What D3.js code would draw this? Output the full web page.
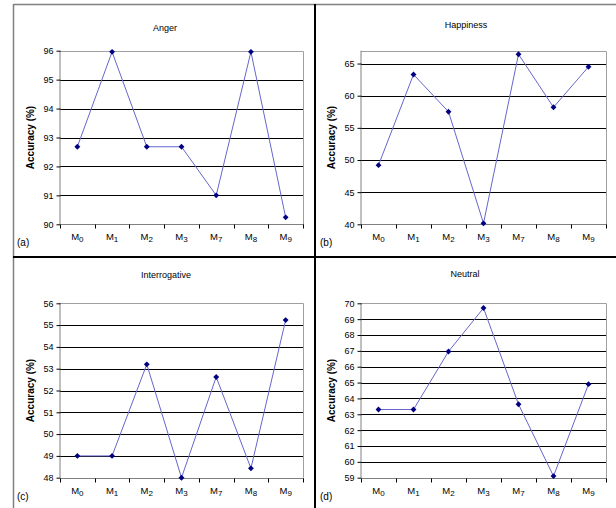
<!DOCTYPE html>
<html><head><meta charset="utf-8">
<script src="https://cdn.jsdelivr.net/npm/d3@7"></script>
<style>body{margin:0;background:#fff}svg{display:block;font-family:"Liberation Sans",Arial,sans-serif}</style>
</head><body><svg id="c" width="616" height="508"></svg>
<script>
const categories = ["0","1","2","3","7","8","9"];
const angerValues = [92.68, 95.96, 92.68, 92.68, 91.0, 95.96, 90.24];
const happinessValues = [49.2, 63.3, 57.5, 40.15, 66.45, 58.2, 64.5];
const interrogativeValues = [49.0, 49.0, 53.2, 48.0, 52.62, 48.43, 55.23];
const neutralValues = [63.3, 63.3, 66.96, 69.7, 63.63, 59.1, 64.9];
const angerTicks = [90,91,92,93,94,95,96];
const happinessTicks = [40,45,50,55,60,65];
const interrogativeTicks = [48,49,50,51,52,53,54,55,56];
const neutralTicks = [59,60,61,62,63,64,65,66,67,68,69,70];

const panels = [
  {title:"Anger", tag:"(a)", values:angerValues, ticks:angerTicks, domain:[90,96], x0:60, x1:303, y0:50.7, y1:224.3, tx:165, ty:31, ax:34, lx:17, ly:246},
  {title:"Happiness", tag:"(b)", values:happinessValues, ticks:happinessTicks, domain:[40,67], x0:361, x1:606, y0:50.7, y1:224.3, tx:466, ty:28, ax:335, lx:320, ly:246},
  {title:"Interrogative", tag:"(c)", values:interrogativeValues, ticks:interrogativeTicks, domain:[48,56], x0:60, x1:303, y0:303.3, y1:477.7, tx:166, ty:278, ax:34, lx:17, ly:500},
  {title:"Neutral", tag:"(d)", values:neutralValues, ticks:neutralTicks, domain:[59,70], x0:361, x1:606, y0:303.3, y1:477.7, tx:465, ty:277, ax:335, lx:320, ly:500}
];

const svg = d3.select("#c");
// frame
svg.append("line").attr("x1",13.5).attr("x2",616).attr("y1",4.5).attr("y2",4.5).attr("stroke","#808080").attr("stroke-width",1.5);
svg.append("line").attr("x1",13.5).attr("x2",13.5).attr("y1",4).attr("y2",508).attr("stroke","#808080").attr("stroke-width",1.5);
svg.append("line").attr("x1",13).attr("x2",616).attr("y1",257).attr("y2",257).attr("stroke","#000").attr("stroke-width",2);
svg.append("line").attr("x1",315).attr("x2",315).attr("y1",4).attr("y2",508).attr("stroke","#000").attr("stroke-width",2);

panels.forEach(p => {
  const g = svg.append("g");
  const x = d3.scaleBand().domain(categories).range([p.x0,p.x1]);
  const y = d3.scaleLinear().domain(p.domain).range([p.y1,p.y0]);
  // gridlines
  g.selectAll(".grid").data(p.ticks.filter(t => y(t) > p.y0 + 1 && y(t) < p.y1 - 1)).enter().append("line")
    .attr("x1",p.x0).attr("x2",p.x1).attr("y1",d=>Math.round(y(d))+0.5).attr("y2",d=>Math.round(y(d))+0.5)
    .attr("stroke","#000").attr("stroke-width",1);
  // plot border (top and right gray)
  g.append("path").attr("d",`M${p.x0},${Math.round(p.y0)+0.5}H${Math.round(p.x1)+0.5}V${p.y1}`)
    .attr("fill","none").attr("stroke","#a0a0a0").attr("stroke-width",1);
  // y axis
  const ya = g.append("g").attr("transform",`translate(${Math.round(p.x0)+0.5},0)`)
    .call(d3.axisLeft(y).tickValues(p.ticks).tickSize(4).tickPadding(3).tickFormat(d3.format("d")));
  ya.select(".domain").attr("stroke","#808080").attr("d",`M-0.5,${p.y0}V${p.y1}`);
  ya.selectAll(".tick line").attr("stroke","#000");
  ya.selectAll("text").attr("font-size",9).attr("fill","#000").attr("font-family","Liberation Sans, Arial, sans-serif");
  // x axis
  const xa = g.append("g").attr("transform",`translate(0,${Math.round(p.y1)+0.5})`);
  xa.append("line").attr("x1",p.x0).attr("x2",p.x1+1).attr("stroke","#808080");
  const bounds = categories.map(c => x(c)).concat([p.x1]);
  xa.selectAll(".xt").data(bounds).enter().append("line")
    .attr("x1",d=>Math.round(d)+0.5).attr("x2",d=>Math.round(d)+0.5).attr("y1",0).attr("y2",4).attr("stroke","#000");
  const lab = xa.selectAll(".xl").data(categories).enter().append("text")
    .attr("x",d=>x(d)+x.bandwidth()/2).attr("y",15).attr("text-anchor","middle")
    .attr("font-size",9.5).attr("fill","#000");
  lab.append("tspan").text("M");
  lab.append("tspan").attr("dy",2.5).attr("font-size",8).text(d=>d);
  // title
  g.append("text").attr("x",p.tx).attr("y",p.ty).attr("text-anchor","middle").attr("font-size",9).text(p.title);
  // axis title
  g.append("text").attr("transform",`translate(${p.ax},${(p.y0+p.y1)/2}) rotate(-90)`)
    .attr("text-anchor","middle").attr("font-size",10).attr("font-weight","bold").text("Accuracy (%)");
  // tag
  g.append("text").attr("x",p.lx).attr("y",p.ly).attr("font-size",10).text(p.tag);
  // line
  const line = d3.line().x((d,i)=>x(categories[i])+x.bandwidth()/2).y(d=>y(d));
  g.append("path").datum(p.values).attr("d",line).attr("fill","none").attr("stroke","#6666cc").attr("stroke-width",1);
  // markers
  g.selectAll(".mk").data(p.values).enter().append("path")
    .attr("d",d3.symbol().type(d3.symbolDiamond2).size(22))
    .attr("transform",(d,i)=>`translate(${x(categories[i])+x.bandwidth()/2},${y(d)})`)
    .attr("fill","#000080");
});
</script></body></html>
